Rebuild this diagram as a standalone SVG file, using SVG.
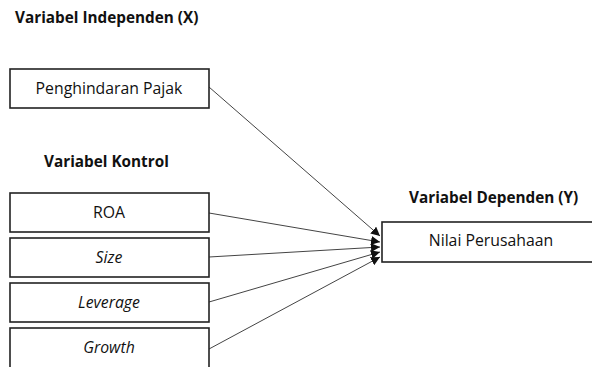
<svg xmlns="http://www.w3.org/2000/svg" width="592" height="367" viewBox="0 0 592 367">
<style>
.box{fill:#fff;stroke:#222;stroke-width:1.6}
.t{font-family:"Open Sans","Liberation Sans",sans-serif;font-size:15.8px;fill:#111;text-anchor:middle}
.i{font-style:italic}
.h{font-family:"Open Sans","Liberation Sans",sans-serif;font-size:15.3px;font-weight:bold;fill:#111}
.c{stroke:#444;stroke-width:1;fill:none;marker-end:url(#ah)}
</style>
<defs>
<marker id="ah" viewBox="0 0 10 10" refX="10" refY="5" markerWidth="9" markerHeight="9" markerUnits="userSpaceOnUse" orient="auto">
<path d="M0,0 L10,5 L0,10 z" fill="#111"/>
</marker>
</defs>
<text class="h" x="15" y="23">Variabel Independen (X)</text>
<text class="h" x="44" y="167">Variabel Kontrol</text>
<text class="h" x="409" y="203">Variabel Dependen (Y)</text>
<g id="connectors">
<line class="c" x1="209" y1="87" x2="380" y2="236"/>
<line class="c" x1="209" y1="213" x2="380" y2="242"/>
<line class="c" x1="209" y1="257" x2="380" y2="247"/>
<line class="c" x1="209" y1="302" x2="380" y2="252"/>
<line class="c" x1="209" y1="349" x2="380" y2="257"/>
</g>
<g id="pajak"><rect class="box" x="10" y="69" width="199" height="39"/><text class="t" x="109" y="94">Penghindaran Pajak</text></g>
<g id="roa"><rect class="box" x="10" y="193" width="199" height="39"/><text class="t" x="109" y="218">ROA</text></g>
<g id="size"><rect class="box" x="10" y="238" width="199" height="39"/><text class="t i" x="109" y="263">Size</text></g>
<g id="leverage"><rect class="box" x="10" y="283" width="199" height="39"/><text class="t i" x="109" y="308">Leverage</text></g>
<g id="growth"><rect class="box" x="10" y="328" width="199" height="45"/><text class="t i" x="109" y="353">Growth</text></g>
<g id="nilai"><rect class="box" x="382" y="222" width="220" height="40"/><text class="t" x="491" y="246">Nilai Perusahaan</text></g>
</svg>
